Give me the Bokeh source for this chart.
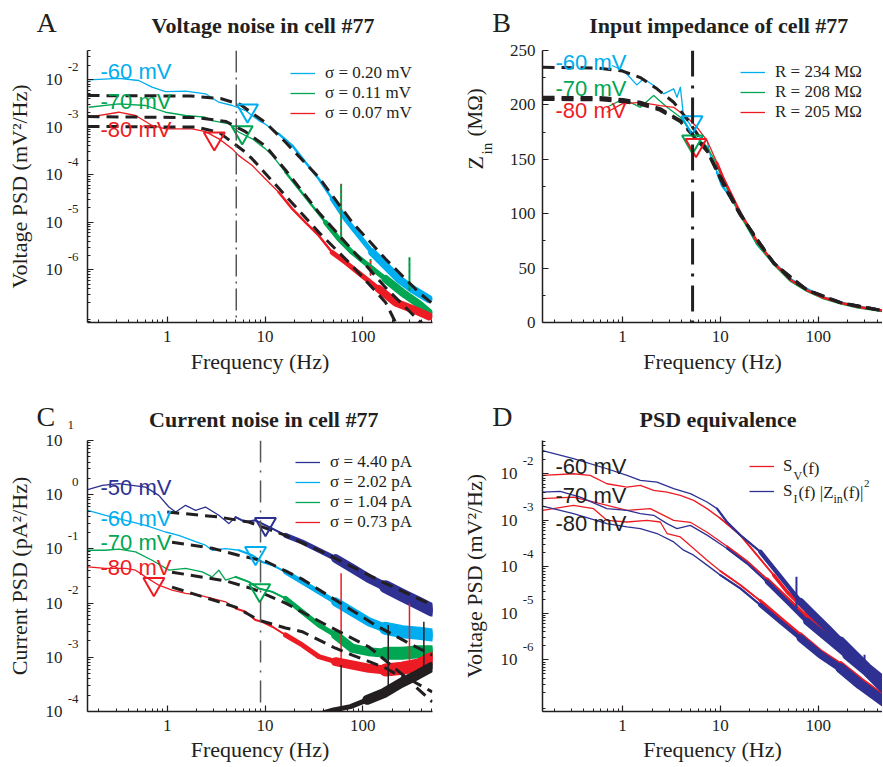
import numpy as np
from bokeh.plotting import figure
from bokeh.models import (Label, Legend, LegendItem, FixedTicker, LogAxis, Range1d,
                          LogScale, CustomJSTickFormatter, Span)
from bokeh.layouts import row, column
from bokeh.embed import file_html
from bokeh.resources import INLINE

SERIF = "Liberation Serif"
SANS = "Liberation Sans"
CYAN = "#00AEEF"
GREEN = "#00A651"
RED = "#ED1C24"
NAVY = "#2E3192"
BLACK = "#231F20"
GRAY = "#555555"

# ---------------- Panel A : voltage noise ----------------
a_f60 = [0.158, 0.32, 0.51, 0.70, 0.96, 1.54, 2.46, 3.37, 4.62, 6.32, 8.65, 10.1,
         13.8, 19.0, 25.9, 35.5, 48.7, 66.5, 91, 125, 171, 233, 320, 473]
a_v60 = [9.86e-3, 1.06e-2, 9.53e-3, 6.89e-3, 5.58e-3, 5.68e-3, 5.0e-3, 3.33e-3,
         2.84e-3, 2.22e-3, 1.37e-3, 1.15e-3, 7.19e-4, 4.08e-4, 1.82e-4, 8.1e-5,
         3.08e-5, 1.17e-5, 5.2e-6, 2.31e-6, 1.21e-6, 6.37e-7, 3.93e-7, 2.42e-7]
a_f70 = [0.158, 0.32, 0.60, 0.96, 1.54, 2.46, 2.88, 4.27, 5.40, 7.40, 10.1, 11.9,
         16.2, 22.2, 30.4, 41.6, 56.9, 78, 115, 171, 253, 374, 473]
a_v70 = [2.61e-3, 3.08e-3, 2.84e-3, 2.05e-3, 1.75e-3, 1.61e-3, 1.37e-3, 1.17e-3,
         7.78e-4, 5.65e-4, 3.48e-4, 2.51e-4, 1.12e-4, 5.0e-5, 2.22e-5, 9.9e-6,
         4.43e-6, 2.31e-6, 1.21e-6, 6.37e-7, 3.33e-7, 1.9e-7, 1.26e-7]
a_f80 = [0.158, 0.32, 0.474, 0.70, 0.96, 1.80, 2.46, 3.37, 4.62, 5.40, 7.40, 10.1,
         13.8, 19.0, 25.9, 35.5, 48.7, 66.5, 98.6, 146, 216, 320, 473]
a_v80 = [1.61e-3, 2.05e-3, 1.75e-3, 1.08e-3, 9.16e-4, 9.16e-4, 8.04e-4, 5.65e-4,
         3.48e-4, 2.51e-4, 1.55e-4, 8.1e-5, 4.24e-5, 1.9e-5, 9.9e-6, 5.2e-6,
         2.31e-6, 1.43e-6, 7.48e-7, 3.93e-7, 2.05e-7, 1.5e-7, 1.05e-7]
a_fit_f60 = [0.153, 1.73, 3.51, 5.6, 7.98, 10.1, 16.2, 35.5, 78, 171, 374, 516]
a_fit_v60 = [4.6e-3, 4.5e-3, 3.98e-3, 2.98e-3, 1.75e-3, 1.24e-3, 4.79e-4, 8.77e-5,
             9.9e-6, 1.68e-6, 3.33e-7, 1.92e-7]
a_fit_f70 = [0.153, 2.0, 4.0, 6.3, 10.1, 16.2, 35.5, 78, 171, 374, 473]
a_fit_v70 = [1.66e-3, 1.58e-3, 1.31e-3, 8.0e-4, 4.0e-4, 1.25e-4, 1.6e-5, 2.6e-6,
             4.2e-7, 8.5e-8, 6.0e-8]
a_fit_f80 = [0.153, 1.96, 3.37, 4.62, 6.32, 7.40, 16.2, 35.5, 78, 171, 216]
a_fit_v80 = [1.03e-3, 1.0e-3, 7.78e-4, 4.79e-4, 2.94e-4, 2.14e-4, 3.61e-5, 6.1e-6,
             1.21e-6, 2.05e-7, 7.8e-8]
a_tri_f = [6.62, 5.84, 3.03]
a_tri_v = [2.22e-3, 7.73e-4, 5.75e-4]
a_spike_f = [60, 120, 300]
a_spike_base = [4.0e-6, 7.5e-7, 3.6e-7]
a_spike_top = [6.45e-5, 1.68e-6, 1.82e-6]
a_cut = 5.08
a_legend = ["σ = 0.20 mV", "σ = 0.11 mV", "σ = 0.07 mV"]

# ---------------- Panel B : input impedance ----------------
b_f234 = [0.779, 1.02, 1.40, 1.64, 2.08, 2.63, 3.33, 3.60, 3.90, 4.21, 4.74, 5.78,
          7.31, 7.90, 9.25, 10.4, 11.7, 16.0, 23.8, 35.1, 52, 77.1, 114, 169, 251, 466]
b_z234 = [236.2, 231.6, 218.4, 224, 217.8, 210.2, 214.8, 207, 216.2, 188.6, 184,
          171.8, 167.2, 153.4, 138, 125.8, 119.6, 101.5, 72, 55.2, 39.9, 30.7, 23,
          18.4, 14.4, 10.8]
b_f208 = [0.692, 1.02, 1.52, 2.08, 2.85, 3.90, 5.33, 7.31, 9.25, 10.8, 16.0, 23.8,
          35.1, 52, 77.1, 114, 169, 251, 466]
b_z208 = [197.8, 205.5, 197.8, 208.6, 197.8, 188.6, 171.8, 161.7, 145.1, 130.4,
          99.1, 72.4, 54.0, 38.5, 29.1, 22.3, 17.7, 14.0, 10.3]
b_f205 = [0.692, 0.986, 1.52, 2.43, 3.33, 4.56, 5.78, 7.31, 9.25, 10.8, 16.0, 23.8,
          35.1, 52, 77.1, 114, 169, 251, 466]
b_z205 = [193.2, 201, 202.4, 199.4, 197.8, 188.6, 179.4, 167.2, 146.9, 132.2,
          100.9, 74.3, 54.9, 39.3, 29.6, 22.7, 18.1, 14.4, 10.8]
b_fit_f234 = [0.152, 0.565, 1.0, 1.52, 2.25, 3.33, 4.56, 5.78, 7.31, 10.8, 16.0,
              23.8, 35.1, 52, 77, 169, 466]
b_fit_z234 = [234.6, 233.9, 231.1, 225.1, 214.8, 202.4, 187.1, 173.6, 158, 128.8,
              100, 75.2, 55.2, 39.9, 30.1, 18.4, 10.8]
b_fit_f_low = [0.152, 0.59, 1.0, 1.52, 2.43, 3.90, 5.33, 7.31, 10.8, 16.0, 35.1,
               77, 169, 466]
b_fit_z208 = [207, 206.7, 204.9, 202.4, 196.6, 185.6, 171.8, 158, 126.5, 99, 54.5,
              29.8, 18.2, 10.7]
b_fit_z205 = [205, 204.7, 203, 200.5, 195, 184.5, 171, 157.5, 126, 98.8, 54.4,
              29.7, 18.2, 10.7]
b_tri_f = [5.13, 5.2, 5.64]
b_tri_z = [183.9, 166.3, 163.1]
b_cut = 5.2
b_legend = ["R = 234 MΩ", "R = 208 MΩ", "R = 205 MΩ"]

# ---------------- Panel C : current noise ----------------
c_f50 = [0.154, 0.217, 0.32, 0.60, 0.82, 1.04, 1.22, 1.54, 1.95, 2.46, 3.37, 4.27,
         5.0, 6.32, 7.98, 11.9, 16.2, 24.0, 35.5, 52.6, 78, 115, 171, 253, 374, 512]
c_v50 = [1.24, 1.49, 1.60, 1.38, 0.973, 0.592, 0.479, 0.637, 0.515, 0.592, 0.417,
         0.293, 0.387, 0.313, 0.337, 0.237, 0.178, 0.134, 0.0944, 0.0665, 0.0436,
         0.0285, 0.02, 0.014, 0.00986, 0.00743]
c_f60 = [0.154, 0.234, 0.375, 0.60, 0.96, 1.31, 1.80, 2.46, 2.88, 3.95, 5.40, 7.40,
         9.36, 11.9, 16.2, 24.0, 35.5, 52.6, 78, 115, 171, 253, 374, 512]
c_v60 = [0.515, 0.417, 0.337, 0.273, 0.205, 0.178, 0.144, 0.117, 0.0944, 0.1016,
         0.0944, 0.0764, 0.0575, 0.05, 0.0377, 0.0247, 0.0161, 0.01057, 0.00692,
         0.00453, 0.00342, 0.00297, 0.00277, 0.00258]
c_f70 = [0.154, 0.234, 0.32, 0.474, 0.70, 1.04, 1.54, 2.28, 2.88, 3.37, 3.95, 5.0,
         6.83, 8.65, 11.9, 16.2, 24.0, 35.5, 52.6, 78, 115, 171, 253, 374, 512]
c_v70 = [0.0944, 0.0944, 0.0987, 0.0879, 0.0618, 0.0405, 0.0436, 0.0377, 0.0305,
         0.0405, 0.0265, 0.0305, 0.0247, 0.0186, 0.0161, 0.0122, 0.00692, 0.00394,
         0.00258, 0.00147, 0.00127, 0.00119, 0.00119, 0.00127, 0.00127]
c_f80 = [0.154, 0.234, 0.375, 0.474, 0.60, 0.82, 1.12, 1.54, 2.10, 2.88, 3.95, 5.0,
         6.32, 7.98, 9.36, 11.9, 16.2, 24.0, 35.5, 52.6, 78, 115, 171, 253, 374, 512]
c_v80 = [0.0466, 0.0436, 0.0436, 0.0405, 0.0305, 0.0214, 0.0173, 0.0151, 0.014,
         0.0122, 0.01057, 0.00798, 0.00692, 0.00486, 0.00453, 0.00366, 0.00258,
         0.00169, 0.00103, 0.00083, 0.000722, 0.000628, 0.000585, 0.000628,
         0.000722, 0.00096]
c_f_floor = [40, 50.5, 74.8, 111, 164, 243, 360, 512]
c_v_floor = [9.5e-5, 1.07e-4, 1.23e-4, 1.64e-4, 2.18e-4, 3.33e-4, 4.73e-4, 6.71e-4]
c_fit_f50 = [1.0, 3.37, 6.83, 16.2, 35.5, 78, 171, 512]
c_fit_v50 = [0.479, 0.387, 0.313, 0.178, 0.0944, 0.0466, 0.023, 0.00918]
c_fit_f60 = [1.12, 2.88, 5.35, 10.4, 24, 52.6, 134, 292, 512]
c_fit_v60 = [0.133, 0.1028, 0.0764, 0.058, 0.0277, 0.01136, 0.00394, 0.00184, 0.0011]
c_fit_f70 = [1.12, 4.05, 7.63, 16.2, 44.4, 116, 272, 512]
c_fit_v70 = [0.0372, 0.0254, 0.0181, 0.01, 0.00377, 0.00155, 0.000435, 0.00023]
c_fit_f80 = [1.12, 5.0, 8.65, 16.2, 24, 52.6, 78, 171, 305, 512]
c_fit_v80 = [0.0197, 0.00843, 0.00486, 0.00347, 0.00297, 0.00147, 0.0011,
             0.000635, 0.000351, 0.000151]
c_tri_f = [10.1, 8.0, 8.83, 0.73]
c_tri_v = [0.286, 0.084, 0.0173, 0.0224]
c_spike_f = [60, 300]
c_spike_base = [7.2e-4, 8.93e-4]
c_spike_top = [0.0356, 9.86e-3]
c_bspike_f = [60, 182, 421]
c_bspike_base = [1.0e-4, 2.5e-4, 5.85e-4]
c_bspike_top = [7.2e-4, 3.94e-3, 4.53e-3]
c_cut = 9.0
c_legend = ["σ = 4.40 pA", "σ = 2.02 pA", "σ = 1.04 pA", "σ = 0.73 pA"]

# ---------------- Panel D : PSD equivalence ----------------
d_f60_i = [0.152, 0.315, 0.692, 1.11, 1.52, 2.25, 3.33, 4.93, 7.31, 9.25, 11.7, 16.0,
           25.7, 35.1, 48.2, 65.9, 90.2, 124, 169, 231, 317, 466]
d_v60_i = [0.0315, 0.021, 0.0128, 0.0092, 0.0072, 0.0066, 0.00478, 0.00373, 0.00247,
           0.00178, 0.00092, 0.00048, 0.00021, 9.24e-5, 4.06e-5, 1.78e-5, 9.24e-6,
           4.8e-6, 2.48e-6, 1.29e-6, 6.67e-7, 3.45e-7]
d_f60_v = [0.152, 0.315, 0.467, 0.692, 1.11, 1.52, 2.08, 2.85, 3.90, 5.33, 7.31, 10.0,
           16.0, 35.1, 48.2, 77.1, 124, 169, 231, 371]
d_v60_v = [0.0092, 0.01, 0.0092, 0.0061, 0.00516, 0.00561, 0.00439, 0.00404, 0.00343,
           0.00268, 0.00178, 0.0011, 0.00048, 6.64e-5, 2.88e-5, 1.09e-5, 4.83e-6,
           2.1e-6, 1.0e-6, 4.8e-7]
d_f70_i = [0.152, 0.23, 0.369, 0.692, 1.11, 1.52, 2.08, 2.85, 3.60, 4.93, 7.31, 11.7,
           18.8, 30.0, 48.2, 77.1, 124, 198, 317, 466]
d_v70_i = [0.00404, 0.00418, 0.00316, 0.00178, 0.00164, 0.00139, 0.00128, 0.00085,
           0.00066, 0.00078, 0.00048, 0.000248, 0.000118, 4.77e-5, 1.78e-5, 6.64e-6,
           2.93e-6, 1.29e-6, 5.65e-7, 2.49e-7]
d_f70_v = [0.152, 0.315, 0.591, 1.11, 1.92, 2.43, 3.33, 4.93, 7.31, 11.7, 18.8, 30,
           48.2, 77.1, 124, 198, 317, 466]
d_v70_v = [0.00292, 0.00316, 0.00228, 0.00164, 0.00178, 0.00139, 0.001, 0.000906,
           0.000553, 0.000277, 0.000132, 5.46e-5, 2.14e-5, 8.4e-6, 3.63e-6, 1.65e-6,
           7.14e-7, 3.09e-7]
d_f80_i = [0.152, 0.315, 0.692, 1.11, 1.52, 2.25, 3.33, 4.21, 5.33, 7.31, 10.0, 16.0,
           25.7, 41.1, 65.9, 106, 169, 271, 466]
d_v80_i = [0.00202, 0.00139, 0.00085, 0.00072, 0.00066, 0.00052, 0.000343, 0.000228,
           0.000178, 0.000109, 6.64e-5, 3.45e-5, 1.51e-5, 6.64e-6, 2.93e-6, 1.29e-6,
           6.67e-7, 2.93e-7, 1.29e-7]
d_f80_v = [0.152, 0.315, 0.505, 0.692, 1.11, 1.78, 2.43, 2.85, 3.90, 5.33, 7.31, 10,
           16, 25.7, 41.1, 65.9, 106, 169, 271, 466]
d_v80_v = [0.00164, 0.00209, 0.00178, 0.001, 0.00092, 0.001, 0.00092, 0.00052,
           0.00044, 0.000248, 0.000139, 8.1e-5, 4.06e-5, 1.85e-5, 7.98e-6, 3.45e-6,
           1.49e-6, 7.87e-7, 3.57e-7, 1.55e-7]
d_spike_f = [60, 298]
d_spike_base = [1.3e-5, 5.65e-7]
d_spike_top = [6.1e-5, 1.29e-6]

x_major = [1, 10, 100]
x_minor = [k * 10.0 ** e for e in (-1, 0, 1, 2) for k in range(2, 10)]


def style_axis(ax):
    ax.axis_line_width = 1.5
    ax.axis_line_color = BLACK
    ax.major_tick_in = 6
    ax.major_tick_out = 0
    ax.minor_tick_in = 3
    ax.minor_tick_out = 0
    ax.major_tick_line_color = BLACK
    ax.minor_tick_line_color = BLACK
    ax.major_tick_line_width = 1.2
    ax.minor_tick_line_width = 1
    ax.major_label_text_font = SERIF
    ax.major_label_text_font_size = "17px"
    ax.major_label_text_color = BLACK
    ax.axis_label_text_font = SERIF
    ax.axis_label_text_font_size = "22px"
    ax.axis_label_text_font_style = "normal"
    ax.axis_label_text_color = BLACK


def make_fig(width, height, left, right, top, bottom, xr, yr, ylog=True):
    p = figure(width=width, height=height, x_axis_type="log",
               y_axis_type="log" if ylog else "linear",
               x_range=xr, y_range=yr, output_backend="svg", toolbar_location=None,
               min_border_left=left, min_border_right=right,
               min_border_top=top, min_border_bottom=bottom)
    p.title.visible = False
    p.outline_line_color = None
    p.xgrid.visible = False
    p.ygrid.visible = False
    p.background_fill_color = "white"
    p.border_fill_color = "white"
    style_axis(p.xaxis[0])
    style_axis(p.yaxis[0])
    p.xaxis.ticker = FixedTicker(ticks=x_major, minor_ticks=x_minor)
    p.xaxis.formatter = CustomJSTickFormatter(code="return tick.toFixed(0);")
    p.xaxis.axis_label = "Frequency (Hz)"
    return p


def blank(width, height):
    h = figure(width=width, height=height, x_range=(0, 1), y_range=(0, 1),
               output_backend="svg", toolbar_location=None, min_border=0,
               x_axis_location=None, y_axis_location=None)
    h.title.visible = False
    h.outline_line_color = None
    h.xgrid.visible = False
    h.ygrid.visible = False
    return h


def log_y(p, exps, label, lo, hi, frame_h):
    ticks = [10.0 ** k for k in exps]
    minor = [m * 10.0 ** e for e in range(-9, 2) for m in range(2, 10)]
    inner = p.yaxis[0]
    inner.ticker = FixedTicker(ticks=ticks, minor_ticks=minor)
    inner.formatter = CustomJSTickFormatter(code="return '';")
    inner.major_label_standoff = 0
    # exponents: same scale shifted up by 13 px
    d = 13.0 * (hi - lo) / frame_h
    p.extra_y_ranges = {"exp": Range1d(10 ** (lo - d), 10 ** (hi - d))}
    p.extra_y_scales = {"exp": LogScale()}
    ea = LogAxis(y_range_name="exp", ticker=FixedTicker(ticks=ticks, minor_ticks=[]),
                 formatter=CustomJSTickFormatter(
                     code="return Math.round(Math.log10(tick)).toString();"))
    style_axis(ea)
    ea.axis_line_color = None
    ea.major_tick_line_color = None
    ea.minor_tick_line_color = None
    ea.major_tick_in = 0
    ea.minor_tick_in = 0
    ea.major_label_standoff = 9
    ea.major_label_text_font_size = "13px"
    p.add_layout(ea, "left")
    ta = LogAxis(ticker=FixedTicker(ticks=ticks, minor_ticks=[]),
                 formatter=CustomJSTickFormatter(code="return '10';"))
    style_axis(ta)
    ta.axis_line_color = None
    ta.major_tick_line_color = None
    ta.minor_tick_line_color = None
    ta.major_tick_in = 0
    ta.minor_tick_in = 0
    ta.major_label_standoff = 2
    ta.axis_label = label
    ta.axis_label_standoff = 11
    p.add_layout(ta, "left")


def lab(p, frame, X, Y, text, size, font=SERIF, color=BLACK, align="left",
        style="normal", angle=0.0):
    fl, fb = frame
    p.add_layout(Label(x=X - fl, y=fb - Y, x_units="screen", y_units="screen",
                       text=text, text_font=font, text_font_size=f"{size}px",
                       text_color=color, text_align=align, text_baseline="middle",
                       text_font_style=style, angle=angle))


def noisy(p, f, v, color, schedule, base_w=1.3):
    f = np.asarray(f, dtype=float)
    v = np.asarray(v, dtype=float)
    r = p.line(f, v, line_color=color, line_width=base_w, line_join="round")
    for fmin, w in schedule:
        idx = np.nonzero(f >= fmin)[0]
        if len(idx) < 2:
            continue
        i0 = idx[0]
        p.line(f[i0:], v[i0:], line_color=color, line_width=w,
               line_join="round", line_cap="round")
    return r


def fit(p, f, v, dash="12 7", w=3):
    p.line(f, v, line_color=BLACK, line_width=w, line_dash=dash)


def legend(p, items, loc, spacing=0, standoff=10):
    lg = Legend(items=[LegendItem(label=t, renderers=[r]) for t, r in items],
                location=loc, glyph_width=25, glyph_height=16, label_height=16,
                label_standoff=standoff, padding=0, margin=0, spacing=spacing,
                background_fill_alpha=0, border_line_alpha=0,
                label_text_font=SERIF, label_text_font_size="17px",
                label_text_color=BLACK)
    p.add_layout(lg)


TOP_H = 38  # height of the top title strip

# ====== headers (titles and panel letters) ======
hA = blank(440, TOP_H)
lab(hA, (0, TOP_H), 36, 22, "A", 28)
lab(hA, (0, TOP_H), 262.5, 25, "Voltage noise in cell #77", 22, style="bold",
    align="center")
hB = blank(442, TOP_H)
lab(hB, (440, TOP_H), 491.7, 22, "B", 28)
lab(hB, (440, TOP_H), 718.3, 25, "Input impedance of cell #77", 22, style="bold",
    align="center")
hC = blank(440, 52)
lab(hC, (0, 432), 36, 415.5, "C", 28)
lab(hC, (0, 432), 263.3, 419, "Current noise in cell #77", 22, style="bold",
    align="center")
lab(hC, (0, 432), 67, 424.5, "1", 13)
hD = blank(442, 52)
lab(hD, (440, 432), 491.7, 415.5, "D", 28)
lab(hD, (440, 432), 717.5, 419, "PSD equivalence", 22, style="bold",
    align="center")

MAIN_H = 380 - TOP_H
MAIN_TOP = 50 - TOP_H

# ====== Panel A ======
FA = (87, 322)
A_LO, A_HI = -7.11, -1.39
pA = make_fig(440, MAIN_H, 87, 8, MAIN_TOP, 58, (0.153, 516), (10 ** A_LO, 10 ** A_HI))
pA.xaxis.major_label_standoff = 8
pA.xaxis.axis_label_standoff = 4
log_y(pA, [-6, -5, -4, -3, -2], "Voltage PSD (mV²/Hz)", A_LO, A_HI, 272)
pA.add_layout(Span(location=a_cut, dimension="height", line_color=GRAY,
                   line_width=1.5, line_dash="22 5 2 5"))
sched_a = [(12, 2.5), (40, 5), (120, 8)]
rA1 = noisy(pA, a_f60, a_v60, CYAN, sched_a)
rA2 = noisy(pA, a_f70, a_v70, GREEN, sched_a)
rA3 = noisy(pA, a_f80, a_v80, RED, sched_a)
pA.segment(x0=a_spike_f, y0=a_spike_base, x1=a_spike_f, y1=a_spike_top,
           line_color=GREEN, line_width=2)
pA.segment(x0=a_spike_f, y0=a_spike_base, x1=a_spike_f, y1=a_spike_top,
           line_color=RED, line_width=1, line_dash="3 3")
fit(pA, a_fit_f60, a_fit_v60)
fit(pA, a_fit_f70, a_fit_v70)
fit(pA, a_fit_f80, a_fit_v80)
pA.scatter(a_tri_f, a_tri_v, marker="inverted_triangle", size=21, fill_color=None,
           line_color=[CYAN, GREEN, RED], line_width=2)
legend(pA, list(zip(a_legend, [rA1, rA2, rA3])), (203, 199))
lab(pA, FA, 100, 71, "-60 mV", 22, SANS, CYAN)
lab(pA, FA, 100, 101, "-70 mV", 22, SANS, GREEN)
lab(pA, FA, 100, 128.5, "-80 mV", 22, SANS, RED)

# ====== Panel B ======
sB = blank(60, MAIN_H)
lab(sB, (440, 380), 474.5, 227, "Z", 22, angle=np.pi / 2)
lab(sB, (440, 380), 486.5, 212, "in", 15, angle=np.pi / 2)
lab(sB, (440, 380), 474.5, 194, "(MΩ)", 21, angle=np.pi / 2)

FB = (542, 322)
pB = make_fig(382, MAIN_H, 42, 0, MAIN_TOP, 58, (0.1518, 455), (0, 250), ylog=False)
pB.xaxis.major_label_standoff = 8
pB.xaxis.axis_label_standoff = 4
pB.yaxis.ticker = FixedTicker(ticks=[0, 50, 100, 150, 200, 250],
                              minor_ticks=[25, 75, 125, 175, 225])
pB.yaxis.major_label_standoff = 7
pB.add_layout(Span(location=b_cut, dimension="height", line_color=BLACK,
                   line_width=3, line_dash="26 9 3 9"))
sched_b = [(8, 2.5)]
rB1 = noisy(pB, b_f234, b_z234, CYAN, sched_b)
rB2 = noisy(pB, b_f208, b_z208, GREEN, sched_b)
rB3 = noisy(pB, b_f205, b_z205, RED, sched_b)
fit(pB, b_fit_f234, b_fit_z234)
fit(pB, b_fit_f_low, b_fit_z208)
fit(pB, b_fit_f_low, b_fit_z205)
pB.scatter(b_tri_f, b_tri_z, marker="inverted_triangle", size=21, fill_color=None,
           line_color=[CYAN, GREEN, RED], line_width=2)
legend(pB, list(zip(b_legend, [rB1, rB2, rB3])), (198, 200))
lab(pB, FB, 555, 61.7, "-60 mV", 22, SANS, CYAN)
lab(pB, FB, 555, 88.3, "-70 mV", 22, SANS, GREEN)
lab(pB, FB, 555, 110, "-80 mV", 22, SANS, RED)

# ====== Panel C ======
FC = (87, 711)
C_LO, C_HI = -4.0, 1.0
pC = make_fig(440, 334, 87, 8, 8, 55, (0.153, 516), (10 ** C_LO, 10 ** C_HI))
pC.xaxis.major_label_standoff = 8
pC.xaxis.axis_label_standoff = 3
log_y(pC, [-4, -3, -2, -1, 0, 1], "Current PSD (pA²/Hz)", C_LO, C_HI, 271)
pC.add_layout(Span(location=c_cut, dimension="height", line_color=GRAY,
                   line_width=1.5, line_dash="22 8 2 8"))
sched_c = [(5, 2), (12, 5), (40, 9), (120, 13)]
rC1 = noisy(pC, c_f50, c_v50, NAVY, sched_c)
rC2 = noisy(pC, c_f60, c_v60, CYAN, sched_c)
rC3 = noisy(pC, c_f70, c_v70, GREEN, sched_c)
rC4 = noisy(pC, c_f80, c_v80, RED, sched_c)
noisy(pC, c_f_floor, c_v_floor, BLACK, [(40, 5), (100, 10)])
pC.segment(x0=c_spike_f, y0=c_spike_base, x1=c_spike_f, y1=c_spike_top,
           line_color=RED, line_width=1.5)
pC.segment(x0=c_bspike_f, y0=c_bspike_base, x1=c_bspike_f, y1=c_bspike_top,
           line_color=BLACK, line_width=1.5)
fit(pC, c_fit_f50, c_fit_v50)
fit(pC, c_fit_f60, c_fit_v60)
fit(pC, c_fit_f70, c_fit_v70)
fit(pC, c_fit_f80, c_fit_v80)
pC.scatter(c_tri_f, c_tri_v, marker="inverted_triangle", size=21, fill_color=None,
           line_color=[NAVY, CYAN, GREEN, RED], line_width=2)
legend(pC, list(zip(c_legend, [rC1, rC2, rC3, rC4])), (208, 179))
lab(pC, FC, 100, 486.7, "-50 mV", 22, SANS, NAVY)
lab(pC, FC, 100, 518.3, "-60 mV", 22, SANS, CYAN)
lab(pC, FC, 100, 542.3, "-70 mV", 22, SANS, GREEN)
lab(pC, FC, 100, 566.7, "-80 mV", 22, SANS, RED)

# ====== Panel D ======
FD = (542, 711)
D_LO, D_HI = -7.107, -1.286
pD = make_fig(442, 334, 102, 0, 8, 55, (0.1518, 455), (10 ** D_LO, 10 ** D_HI))
pD.xaxis.major_label_standoff = 8
pD.xaxis.axis_label_standoff = 3
log_y(pD, [-6, -5, -4, -3, -2], "Voltage PSD (mV²/Hz)", D_LO, D_HI, 271)
sched_dv = [(8, 1.8), (20, 3.5), (60, 5), (150, 7)]
sched_di = [(8, 2.2), (20, 4.5), (60, 7.5), (150, 10)]
rDv = noisy(pD, d_f60_v, d_v60_v, RED, sched_dv)
noisy(pD, d_f70_v, d_v70_v, RED, sched_dv)
noisy(pD, d_f80_v, d_v80_v, RED, sched_dv)
rDi = noisy(pD, d_f60_i, d_v60_i, NAVY, sched_di)
noisy(pD, d_f70_i, d_v70_i, NAVY, sched_di)
noisy(pD, d_f80_i, d_v80_i, NAVY, sched_di)
pD.segment(x0=d_spike_f, y0=d_spike_base, x1=d_spike_f, y1=d_spike_top,
           line_color=NAVY, line_width=2)
legend(pD, [("S", rDv), ("S", rDi)], (207, 210), spacing=5, standoff=9)
lab(pD, FD, 793, 475, "V", 12)
lab(pD, FD, 802, 468.3, "(f)", 17)
lab(pD, FD, 793, 498, "I", 12)
lab(pD, FD, 798, 491.7, "(f) |Z", 17)
lab(pD, FD, 833, 498, "in", 12)
lab(pD, FD, 842.5, 491.7, "(f)|", 17)
lab(pD, FD, 863.5, 483, "2", 11)
lab(pD, FD, 555, 466, "-60 mV", 22, SANS, BLACK)
lab(pD, FD, 555, 495, "-70 mV", 22, SANS, BLACK)
lab(pD, FD, 555, 522.7, "-80 mV", 22, SANS, BLACK)

layout = column(row(hA, hB), row(pA, sB, pB), row(hC, hD), row(pC, pD))
open("out.html", "w").write(file_html(layout, INLINE))
